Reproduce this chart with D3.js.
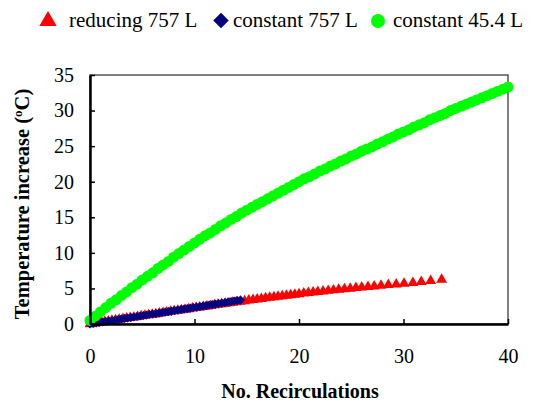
<!DOCTYPE html>
<html>
<head>
<meta charset="utf-8">
<script src="https://cdn.jsdelivr.net/npm/d3@7.9.0/dist/d3.min.js"></script>
<style>
  body { margin: 0; background: #fff; }
  svg { display: block; font-family: "Liberation Serif", "Times New Roman", serif; }
</style>
</head>
<body>
<svg width="538" height="404"></svg>
<script>
// reducing 757 L (red triangles)
const redX = [0, 0.35, 0.7, 1.05, 1.4, 1.75, 2.1, 2.45, 2.8, 3.15, 3.5, 3.85, 4.2, 4.55, 4.9, 5.25, 5.6, 5.95,
  6.3, 6.65, 7.0, 7.35, 7.7, 8.05, 8.4, 8.75, 9.1, 9.45, 9.8, 10.15, 10.5, 10.85, 11.2, 11.55, 11.9, 12.25,
  12.6, 12.95, 13.3, 13.65, 14.0, 14.4, 14.8, 15.2, 15.6, 16.0, 16.4, 16.8, 17.2, 17.6, 18.0, 18.4, 18.8,
  19.2, 19.6, 20.0, 20.45, 20.9, 21.35, 21.8, 22.3, 22.8, 23.3, 23.8, 24.35, 24.9, 25.45, 26.0, 26.6, 27.2,
  27.85, 28.55, 29.3, 30.05, 30.9, 31.7, 32.6, 33.65];
const redY = [0, 0.08, 0.16, 0.24, 0.32, 0.39, 0.47, 0.55, 0.63, 0.71, 0.79, 0.87, 0.94, 1.02, 1.10, 1.18, 1.26, 1.34,
  1.41, 1.49, 1.57, 1.65, 1.73, 1.80, 1.88, 1.96, 2.04, 2.11, 2.19, 2.27, 2.34, 2.42, 2.50, 2.57, 2.65, 2.72,
  2.79, 2.86, 2.93, 3.00, 3.07, 3.15, 3.23, 3.31, 3.39, 3.47, 3.55, 3.63, 3.70, 3.78, 3.86, 3.93, 4.01,
  4.08, 4.15, 4.22, 4.30, 4.38, 4.45, 4.52, 4.60, 4.68, 4.75, 4.83, 4.91, 4.99, 5.07, 5.15, 5.23, 5.31,
  5.40, 5.49, 5.59, 5.69, 5.80, 5.93, 6.07, 6.25];

// constant 757 L (navy diamonds)
const blueX = [0, 0.3, 0.6, 0.9, 1.2, 1.5, 1.8, 2.1, 2.4, 2.7, 3.0, 3.3, 3.6, 3.9, 4.2, 4.5, 4.8, 5.1, 5.4, 5.7,
  6.0, 6.3, 6.6, 6.9, 7.2, 7.5, 7.8, 8.1, 8.4, 8.7, 9.0, 9.3, 9.6, 9.9, 10.2, 10.5, 10.8, 11.1, 11.4, 11.7,
  12.0, 12.3, 12.6, 12.9, 13.2, 13.5, 13.8, 14.1, 14.4];
const blueY = [0, 0.07, 0.14, 0.21, 0.28, 0.35, 0.42, 0.49, 0.56, 0.63, 0.70, 0.77, 0.84, 0.91, 0.98, 1.05, 1.12, 1.19, 1.26, 1.33,
  1.40, 1.47, 1.54, 1.61, 1.68, 1.75, 1.82, 1.89, 1.96, 2.03, 2.10, 2.17, 2.24, 2.31, 2.38, 2.45, 2.52, 2.59, 2.66, 2.73,
  2.80, 2.87, 2.94, 3.01, 3.08, 3.15, 3.22, 3.29, 3.36];

// constant 45.4 L (green circles)
const greenX = [0, 0.5, 1, 1.5, 2, 2.5, 3, 3.5, 4, 4.5, 5, 5.5, 6, 6.5, 7, 7.5, 8, 8.5, 9, 9.5, 10,
  10.5, 11, 11.5, 12, 12.5, 13, 13.5, 14, 14.5, 15, 15.5, 16, 16.5, 17, 17.5, 18, 18.5, 19, 19.5, 20,
  20.5, 21, 21.5, 22, 22.5, 23, 23.5, 24, 24.5, 25, 25.5, 26, 26.5, 27, 27.5, 28, 28.5, 29, 29.5, 30,
  30.5, 31, 31.5, 32, 32.5, 33, 33.5, 34, 34.5, 35, 35.5, 36, 36.5, 37, 37.5, 38, 38.5, 39, 39.5, 40];
const greenY = [0.5, 1.1, 1.7, 2.3, 2.9, 3.4, 4.0, 4.5, 5.1, 5.6, 6.2, 6.7, 7.2, 7.8, 8.3, 8.8, 9.4, 9.9, 10.4, 10.9, 11.4,
  11.9, 12.4, 12.8, 13.3, 13.8, 14.2, 14.7, 15.1, 15.6, 16.0, 16.4, 16.8, 17.2, 17.6, 18.0, 18.4, 18.8, 19.2, 19.6, 20.0,
  20.4, 20.7, 21.1, 21.5, 21.8, 22.2, 22.5, 22.9, 23.2, 23.6, 23.9, 24.3, 24.6, 24.9, 25.3, 25.6, 26.0, 26.3, 26.7, 27.0,
  27.3, 27.7, 28.0, 28.3, 28.7, 29.0, 29.3, 29.6, 30.0, 30.3, 30.6, 30.9, 31.2, 31.5, 31.8, 32.1, 32.4, 32.7, 33.0, 33.3];

const xTicks = [0, 10, 20, 30, 40];
const yTicks = [0, 5, 10, 15, 20, 25, 30, 35];
const seriesNames = ['reducing 757 L', 'constant 757 L', 'constant 45.4 L'];

const svg = d3.select('svg');
const plotL = 90, plotR = 508, plotT = 75, plotB = 324;
const serif = '"Liberation Serif", "Times New Roman", serif';

const x = d3.scaleLinear().domain([0, 40]).range([plotL, plotR]);
const y = d3.scaleLinear().domain([0, 35]).range([plotB, plotT]);

// frame (thin top/right)
svg.append('rect')
  .attr('x', plotL).attr('y', plotT)
  .attr('width', plotR - plotL).attr('height', plotB - plotT)
  .attr('fill', 'none').attr('stroke', '#555').attr('stroke-width', 1.5);

const zip = (xs, ys) => xs.map((d, i) => [d, ys[i]]);

const tri = d3.symbol().type(d3.symbolTriangle).size(52);
// diamond = square turned 45deg
const dia = d3.symbol().type(d3.symbolSquare).size(42);

svg.append('g').selectAll('path')
  .data(zip(redX, redY))
  .join('path')
  .attr('d', tri)
  .attr('transform', d => `translate(${x(d[0])},${y(d[1])})`)
  .attr('fill', '#ff0000');

svg.append('g').selectAll('path')
  .data(zip(blueX, blueY))
  .join('path')
  .attr('d', dia)
  .attr('transform', d => `translate(${x(d[0])},${y(d[1])}) rotate(45)`)
  .attr('fill', '#000080');

svg.append('g').selectAll('circle')
  .data(zip(greenX, greenY))
  .join('circle')
  .attr('cx', d => x(d[0]))
  .attr('cy', d => y(d[1]))
  .attr('r', 5.5)
  .attr('fill', '#00ff00');

// axes, ticks inside
const xAxis = svg.append('g')
  .attr('transform', `translate(0,${plotB})`)
  .call(d3.axisBottom(x).tickValues(xTicks).tickSizeInner(-5).tickSizeOuter(0).tickPadding(25));
const yAxis = svg.append('g')
  .attr('transform', `translate(${plotL},0)`)
  .call(d3.axisLeft(y).tickValues(yTicks).tickSizeInner(-5).tickSizeOuter(0).tickPadding(16));

[xAxis, yAxis].forEach(g => {
  g.select('.domain').attr('stroke', '#000').attr('stroke-width', 2.5);
  g.selectAll('.tick line').attr('stroke', '#000').attr('stroke-width', 1.5);
  g.selectAll('.tick text').attr('fill', '#000')
    .style('font-family', serif).style('font-size', '20px');
});

// axis titles
svg.append('text')
  .attr('x', 300).attr('y', 398)
  .attr('text-anchor', 'middle')
  .style('font-family', serif)
  .attr('font-weight', 'bold').attr('font-size', 20)
  .text('No. Recirculations');

const yt = svg.append('text')
  .attr('transform', 'translate(29,204) rotate(-90)')
  .attr('text-anchor', 'middle')
  .style('font-family', serif)
  .attr('font-weight', 'bold').attr('font-size', 20.5);
yt.append('tspan').text('Temperature increase (');
yt.append('tspan').attr('font-size', 13).attr('dy', -7).text('o');
yt.append('tspan').attr('dy', 7).text('C)');

// legend
const legend = svg.append('g').style('font-family', serif).attr('font-size', 21);
const legX = [48, 221, 378];
const legTextX = [69, 233, 393];
legend.append('path')
  .attr('d', d3.symbol().type(d3.symbolTriangle).size(130))
  .attr('transform', `translate(${legX[0]},21)`)
  .attr('fill', '#ff0000');
legend.append('path')
  .attr('d', d3.symbol().type(d3.symbolSquare).size(120))
  .attr('transform', `translate(${legX[1]},20.5) rotate(45)`)
  .attr('fill', '#000080');
legend.append('circle')
  .attr('cx', legX[2]).attr('cy', 21).attr('r', 7)
  .attr('fill', '#00ff00');
seriesNames.forEach((name, i) => {
  legend.append('text')
    .attr('x', legTextX[i]).attr('y', 27)
    .text(name);
});
</script>
</body>
</html>
